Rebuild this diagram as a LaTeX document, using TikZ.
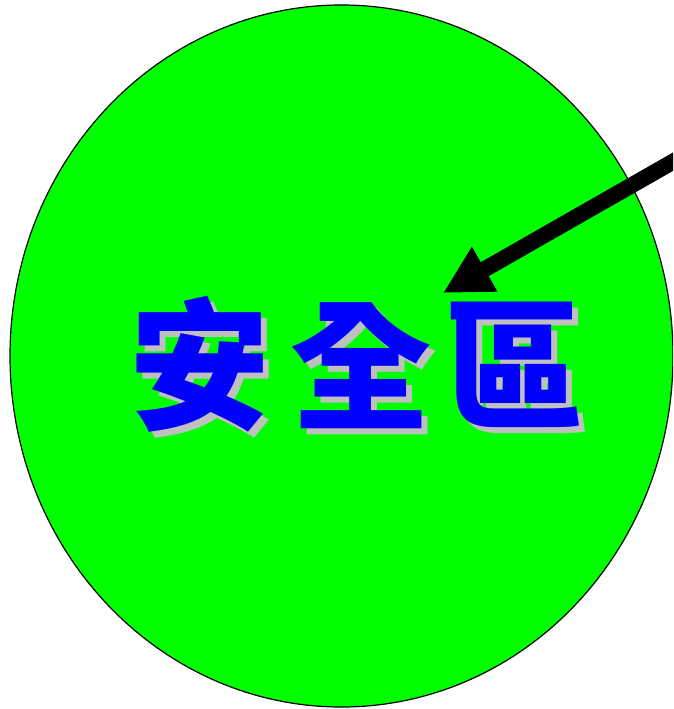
\documentclass[tikz,border=0pt]{standalone}
\usepackage{fontspec}
\newfontfamily\cjk{Noto Sans CJK TC}
\usetikzlibrary{arrows.meta,shapes.geometric}
\definecolor{zonegreen}{RGB}{0,255,0}
\definecolor{zoneblue}{RGB}{0,0,255}
\definecolor{shadowgray}{RGB}{192,192,192}
\tikzset{
	zonetext/.style={font=\cjk\bfseries\fontsize{141}{141}\selectfont, inner sep=0pt},
	pointer/.style={line width=16pt, -{Triangle[length=48pt, width=48pt]}}
}
\begin{document}
\begin{tikzpicture}[x=1pt, y=-1pt]
\useasboundingbox (0,0) rectangle (673,709);
\clip (0,0) rectangle (673,709);
\node[ellipse, draw=black, line width=1.2pt, fill=zonegreen, minimum width=663pt, minimum height=702pt, inner sep=0pt] (zone) at (341.5,356) {};
% shadow first, then the text on top
\node[zonetext, text=shadowgray] (shadow) at (363,370) {安\hspace{20pt}全\hspace{12pt}區};
\node[zonetext, text=zoneblue] (label) at (357,364) {安\hspace{20pt}全\hspace{12pt}區};
\coordinate (tail) at (690,152);
\coordinate (tip) at (443,293);
\draw[pointer] (tail) -- (tip);
\end{tikzpicture}
\end{document}
